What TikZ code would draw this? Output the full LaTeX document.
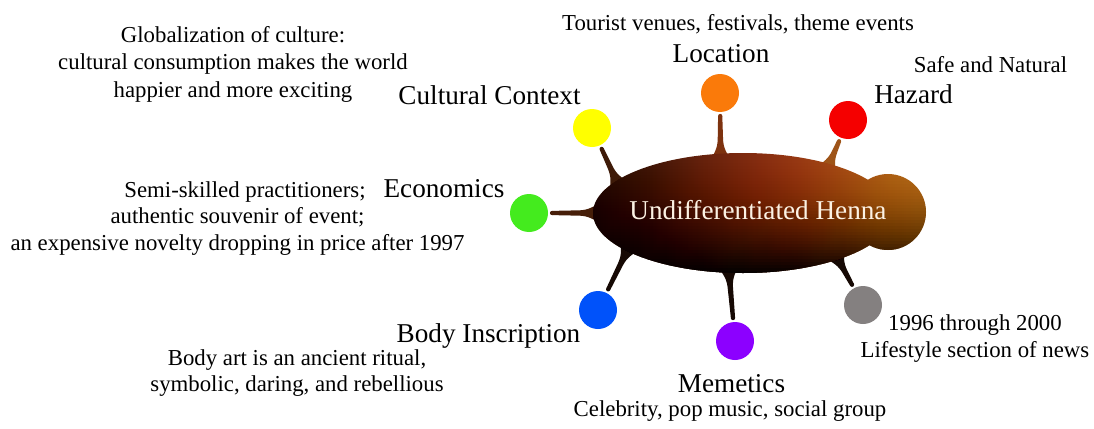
\documentclass[tikz,border=0pt]{standalone}
\usepackage{fontspec}
\setmainfont{Liberation Serif}
\usetikzlibrary{calc}
\definecolor{hA}{RGB}{40,15,5}
\definecolor{hB}{RGB}{66,23,8}
\definecolor{hC}{RGB}{100,33,12}
\definecolor{hD}{RGB}{134,45,16}
\definecolor{hE}{RGB}{152,57,19}
\definecolor{hF}{RGB}{168,80,22}
\definecolor{hG}{RGB}{178,100,24}
\definecolor{hH}{RGB}{182,108,28}
\definecolor{cyel}{RGB}{255,255,0}
\definecolor{corange}{RGB}{250,122,10}
\definecolor{cred}{RGB}{245,0,0}
\definecolor{cgreen}{RGB}{68,235,30}
\definecolor{cblue}{RGB}{0,82,250}
\definecolor{cpurple}{RGB}{140,0,255}
\definecolor{cgray}{RGB}{132,128,128}
\definecolor{cream}{RGB}{252,242,228}
\definecolor{spdark}{RGB}{62,26,8}
\definecolor{spgreen}{RGB}{70,30,9}
\definecolor{sploc}{RGB}{125,50,15}
\definecolor{sphaz}{RGB}{158,84,24}
\definecolor{spblack}{RGB}{22,9,4}
\pgfdeclarehorizontalshading{hennah}{100bp}{color(0bp)=(hA); color(25bp)=(hA); color(33.6bp)=(hB); color(41bp)=(hC); color(50bp)=(hD); color(56bp)=(hE); color(63.6bp)=(hF); color(69.6bp)=(hG); color(75bp)=(hH); color(100bp)=(hH)}
\newcommand\hspike[3]{%
  \coordinate (sptip) at ($(#2.center)!23pt!(#3)$);
  \fill[#1]
    ($(#3)!-12pt!(sptip)!14pt!90:(sptip)$)
    .. controls ($(#3)!2pt!(sptip)!5pt!90:(sptip)$) and ($(#3)!6pt!(sptip)!3.2pt!90:(sptip)$)
    .. ($(#3)!14pt!(sptip)!2.7pt!90:(sptip)$)
    -- ($(sptip)!2.1pt!-90:(#3)$)
    -- ($(sptip)!2.1pt!90:(#3)$)
    -- ($(#3)!14pt!(sptip)!2.7pt!-90:(sptip)$)
    .. controls ($(#3)!6pt!(sptip)!3.2pt!-90:(sptip)$) and ($(#3)!2pt!(sptip)!5pt!-90:(sptip)$)
    .. ($(#3)!-12pt!(sptip)!14pt!-90:(sptip)$) -- cycle;
  \fill[#1] (sptip) circle[radius=2.1pt];}
\newcommand\hennabody{(743,213) ellipse[x radius=150, y radius=60] (888,212) circle[radius=38]}
\begin{document}
\begin{tikzpicture}[x=1pt,y=-1pt,
  hdot/.style={circle, inner sep=0pt, minimum size=38pt, draw=none},
  hdesc/.style={font=\fontsize{22.8}{27}\selectfont, inner sep=0pt, anchor=base},
  hlabel/.style={font=\fontsize{27.2}{32}\selectfont, inner sep=0pt, anchor=base}]
\useasboundingbox (0,0) rectangle (1094,428);
\fill[white] (0,0) rectangle (1094,428);

% dots
\node[hdot, fill=cyel]    (dCult) at (592,128) {};
\node[hdot, fill=cgreen]  (dEcon) at (529,213) {};
\node[hdot, fill=corange] (dLoc)  at (720,93) {};
\node[hdot, fill=cred]    (dHaz)  at (848,120) {};
\node[hdot, fill=cgray]   (dTime) at (863,305) {};
\node[hdot, fill=cpurple] (dMem)  at (735,341) {};
\node[hdot, fill=cblue]   (dBody) at (598,310) {};

% spike bases on the body outline
\coordinate (eCult) at (616.5,181);
\coordinate (eEcon) at (594,213);
\coordinate (eLoc)  at (720.5,154);
\coordinate (eHaz)  at (829,165);
\coordinate (eTime) at (838,259);
\coordinate (eMem)  at (729,272.5);
\coordinate (eBody) at (627,251);

\hspike{spdark}{dCult}{eCult}
\hspike{spgreen}{dEcon}{eEcon}
\hspike{sploc}{dLoc}{eLoc}
\hspike{sphaz}{dHaz}{eHaz}
\hspike{spblack}{dTime}{eTime}
\hspike{spblack}{dMem}{eMem}
\hspike{spblack}{dBody}{eBody}

% body: left-to-right colour, then darkening towards the bottom
\path[shading=hennah] \hennabody;
\begin{scope}
  \clip \hennabody;
  \foreach \k in {1,...,40} {
    \pgfmathsetmacro\Dk{0.93*(\k/40)^2.2}
    \pgfmathsetmacro\Dp{0.93*((\k-1)/40+0.0001)^2.2}
    \pgfmathsetmacro\ak{1-(1-\Dk)/(1-\Dp)}
    \fill[black, fill opacity=\ak] (588,{150.5+3*\k}) rectangle (930,280);
  }
\end{scope}
\node[hlabel, text=cream] (center) at (758,219) {Undifferentiated Henna};

% labels
\node[hlabel] (lCult) at (489.5,104) {Cultural Context};
\node[hlabel] (lLoc)  at (721,63) {Location};
\node[hlabel] (lHaz)  at (913.5,103) {Hazard};
\node[hlabel] (lEcon) at (444,197) {Economics};
\node[hlabel] (lBody) at (488.5,342) {Body Inscription};
\node[hlabel] (lMem)  at (731.5,392) {Memetics};

% descriptions
\node[hdesc] (g1) at (233,42.5) {Globalization of culture:};
\node[hdesc] (g2) at (233,70) {cultural consumption makes the world};
\node[hdesc] (g3) at (233,97.5) {happier and more exciting};
\node[hdesc] (t1) at (738,31) {Tourist venues, festivals, theme events};
\node[hdesc] (s1) at (990.5,72) {Safe and Natural};
\node[hdesc] (e1) at (245,197) {Semi-skilled practitioners;};
\node[hdesc] (e2) at (237.5,223.5) {authentic souvenir of event;};
\node[hdesc] (e3) at (237.5,250) {an expensive novelty dropping in price after 1997};
\node[hdesc] (b1) at (297,365) {Body art is an ancient ritual,};
\node[hdesc] (b2) at (297,391) {symbolic, daring, and rebellious};
\node[hdesc] (y1) at (975,330) {1996 through 2000};
\node[hdesc] (y2) at (975,357) {Lifestyle section of news};
\node[hdesc] (m1) at (730,416) {Celebrity, pop music, social group};
\end{tikzpicture}
\end{document}
